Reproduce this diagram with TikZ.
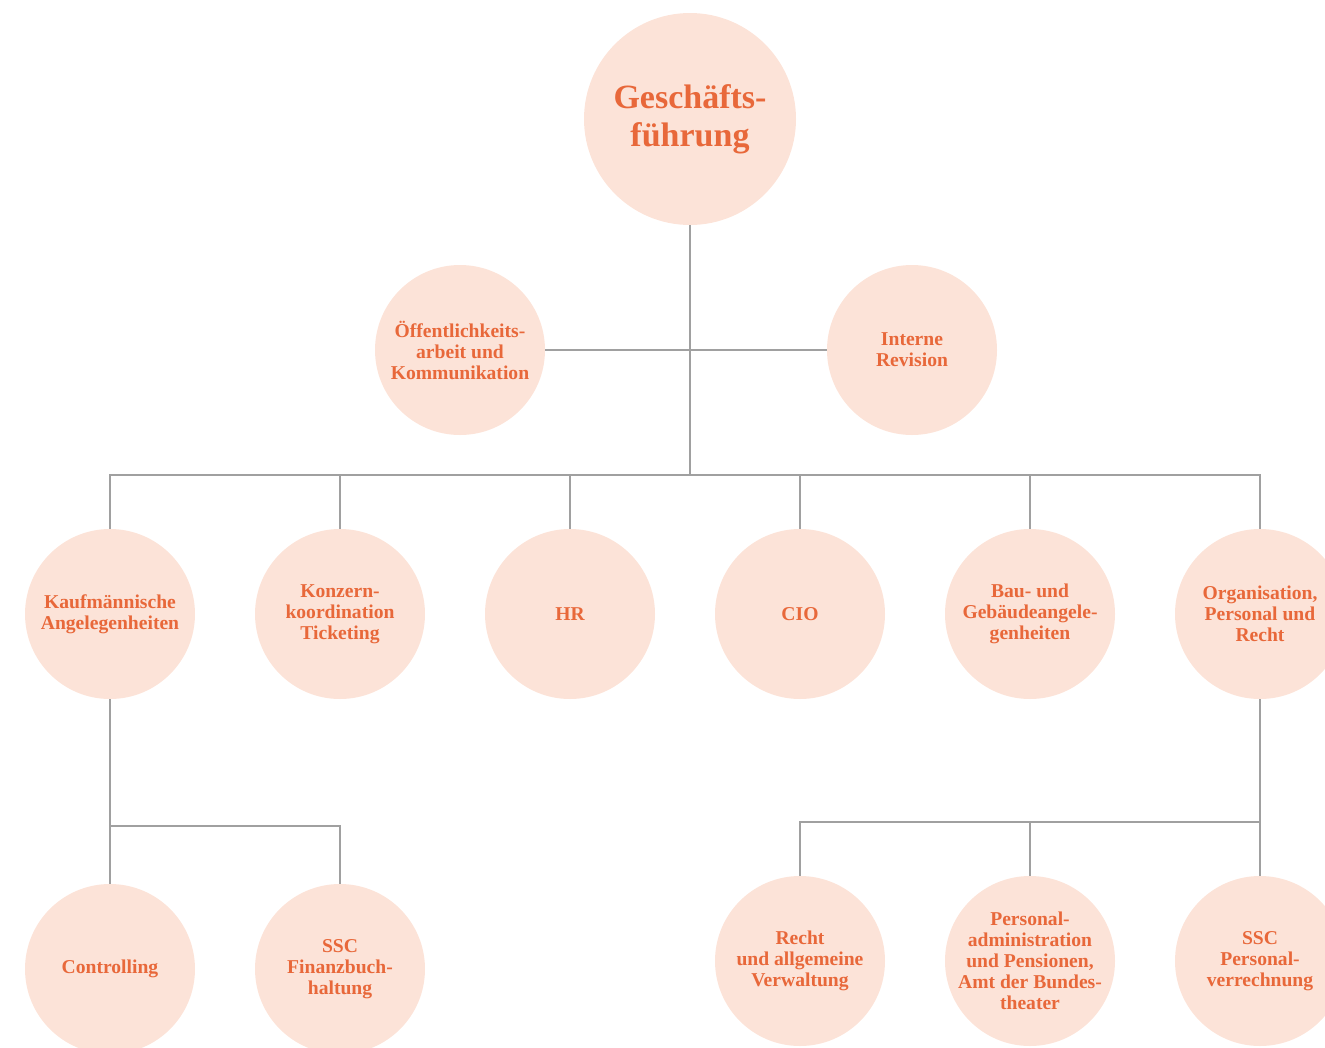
\documentclass[tikz,border=0pt]{standalone}
\usepackage{fontspec}
\setmainfont{Liberation Serif}
\definecolor{orgtxt}{HTML}{E8683A}
\definecolor{orgfill}{HTML}{FCE3D8}
\definecolor{conn}{HTML}{A0A0A0}
\begin{document}
\begin{tikzpicture}[x=1pt,y=-1pt,
  unit/.style={circle,fill=orgfill,draw=none,minimum size=170pt,inner sep=-20pt,
    align=center,text=orgtxt,font=\bfseries\fontsize{19.6}{21}\selectfont},
  topunit/.style={unit,minimum size=212pt,font=\bfseries\fontsize{34}{38}\selectfont},
  link/.style={draw=conn,line width=1.8pt}]
\useasboundingbox (0,0) rectangle (1325,1047);
\clip (0,0) rectangle (1325,1047);
\node[topunit] (gf) at (690,119) {Geschäfts-\\führung};
\node[unit] (oef) at (460,350) {Öffentlichkeits-\\arbeit und\\Kommunikation};
\node[unit] (ir) at (912,350) {Interne\\Revision};
\node[unit] (kauf) at (110,614) {Kaufmännische\\Angelegenheiten};
\node[unit] (konz) at (340,614) {Konzern-\\koordination\\Ticketing};
\node[unit] (hr) at (570,614) {HR};
\node[unit] (cio) at (800,614) {CIO};
\node[unit] (bau) at (1030,614) {Bau- und\\Gebäudeangele-\\genheiten};
\node[unit] (org) at (1260,614) {Organisation,\\Personal und\\Recht};
\node[unit] (ctrl) at (110,969) {Controlling};
\node[unit] (sscf) at (340,969) {SSC\\Finanzbuch-\\haltung};
\node[unit] (recht) at (800,961) {Recht\\und allgemeine\\Verwaltung};
\node[unit] (pers) at (1030,961) {Personal-\\administration\\und Pensionen,\\Amt der Bundes-\\theater};
\node[unit] (sscp) at (1260,961) {SSC\\Personal-\\verrechnung};
\coordinate (j1) at (690,475);
\coordinate (j2) at (110,826);
\coordinate (j3) at (1260,822);
\draw[link] (gf) -- (j1);
\draw[link] (oef) -- (ir);
\foreach \n in {kauf,konz,hr,cio,bau,org} \draw[link] (j1) -| (\n);
\draw[link] (kauf) -- (ctrl);
\draw[link] (j2) -| (sscf);
\draw[link] (org) -- (sscp);
\draw[link] (j3) -| (recht);
\draw[link] (j3) -| (pers);
\end{tikzpicture}
\end{document}
